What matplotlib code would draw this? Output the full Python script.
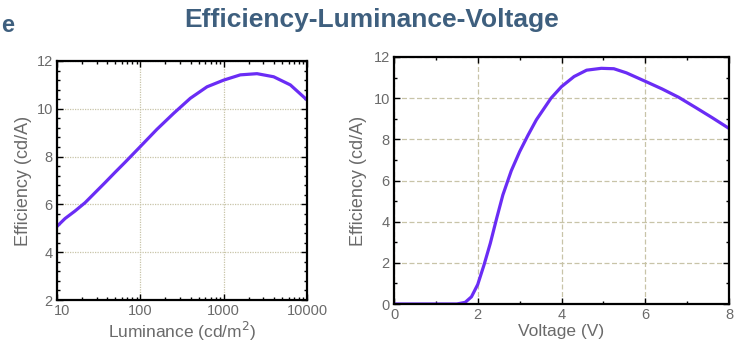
import matplotlib
matplotlib.use("Agg")
import matplotlib.pyplot as plt
from matplotlib.ticker import MultipleLocator, LogLocator, NullFormatter
from matplotlib.transforms import ScaledTranslation
import numpy as np

plt.rcParams['font.family'] = ['Liberation Sans', 'DejaVu Sans']

title = "Efficiency-Luminance-Voltage"

lum = [10, 12.5, 16.4, 21.7, 28.6, 37.7, 49.7, 65.5, 100, 158, 251, 398, 631,
       1000, 1585, 2512, 3981, 6310, 10000]
eff_lum = [5.08, 5.41, 5.72, 6.07, 6.49, 6.91, 7.34, 7.76, 8.42, 9.14, 9.81, 10.44, 10.92,
           11.2, 11.42, 11.47, 11.34, 11.0, 10.37]

volt = [0, 0.5, 1.0, 1.5, 1.7, 1.85, 2.0, 2.15, 2.3, 2.45, 2.6, 2.8, 3.0, 3.2, 3.4, 3.75,
        4.0, 4.3, 4.6, 4.95, 5.25, 5.55, 6.0, 6.4, 6.8, 7.2, 7.6, 8.0]
eff_volt = [0, 0, 0, 0, 0.08, 0.35, 0.95, 1.9, 2.95, 4.15, 5.3, 6.47, 7.4, 8.2, 8.95, 10.0,
            10.56, 11.05, 11.36, 11.45, 11.43, 11.23, 10.82, 10.45, 10.04, 9.55, 9.05, 8.53]

line_color = '#6a2cf5'
grid_color = '#c8c4a8'
text_color = '#6a6a6a'
title_color = '#3e5f7e'

fig = plt.figure(figsize=(7.34, 3.47), dpi=100)

def style(ax, gls):
    for s in ax.spines.values():
        s.set_linewidth(1.6)
        s.set_color('black')
    ax.tick_params(which='both', direction='in', top=True, right=True,
                   colors='black', labelcolor=text_color, width=1.0)
    ax.tick_params(which='major', length=4, labelsize=10.5, pad=3)
    ax.tick_params(which='minor', length=2)
    ax.grid(True, which='major', linestyle=gls, color=grid_color, linewidth=0.9)

ax1 = fig.add_axes([57/734, 1-300/347, 250/734, 239/347])
ax1.semilogx(lum, eff_lum, color=line_color, linewidth=2.3, solid_capstyle='butt',
             solid_joinstyle='round')
ax1.set_xlim(10, 10000)
ax1.set_ylim(2, 12)
ax1.set_xticks([10, 100, 1000, 10000])
ax1.set_xticklabels(['10', '100', '1000', '10000'])
ax1.xaxis.set_minor_locator(LogLocator(base=10, subs=np.arange(2, 10)))
ax1.xaxis.set_minor_formatter(NullFormatter())
ax1.yaxis.set_major_locator(MultipleLocator(2))
ax1.yaxis.set_minor_locator(MultipleLocator(0.4))
style(ax1, (0, (1, 1)))
ax1.set_xlabel('Luminance (cd/m$^2$)', color=text_color, fontsize=12.5, labelpad=1)
ax1.set_ylabel('Efficiency (cd/A)', color=text_color, fontsize=13, labelpad=3)

# nudge corner labels apart, as in the reference
xl0 = ax1.get_xticklabels()[0]
xl0.set_transform(xl0.get_transform() + ScaledTranslation(4/72, 0, fig.dpi_scale_trans))
yl0 = ax1.get_yticklabels()[0]
yl0.set_transform(yl0.get_transform() + ScaledTranslation(-1/72, 4/72, fig.dpi_scale_trans))

ax2 = fig.add_axes([394/734, 1-304/347, 335/734, 247/347])
ax2.plot(volt, eff_volt, color=line_color, linewidth=2.3, solid_capstyle='butt',
         solid_joinstyle='round')
ax2.set_xlim(0, 8)
ax2.set_ylim(0, 12)
ax2.xaxis.set_major_locator(MultipleLocator(2))
ax2.xaxis.set_minor_locator(MultipleLocator(1))
ax2.yaxis.set_major_locator(MultipleLocator(2))
ax2.yaxis.set_minor_locator(MultipleLocator(1))
style(ax2, (0, (4, 2)))
ax2.set_xlabel('Voltage (V)', color=text_color, fontsize=12.5, labelpad=1)
ax2.set_ylabel('Efficiency (cd/A)', color=text_color, fontsize=13, labelpad=5)

fig.text(372/734, 1-20/347, title, ha='center', va='center', fontsize=19,
         fontweight='bold', color=title_color)
fig.text(1/734, 1-26/347, 'e', ha='left', va='center', fontsize=17,
         fontweight='bold', color=title_color)

fig.savefig('out.png', dpi=100)
